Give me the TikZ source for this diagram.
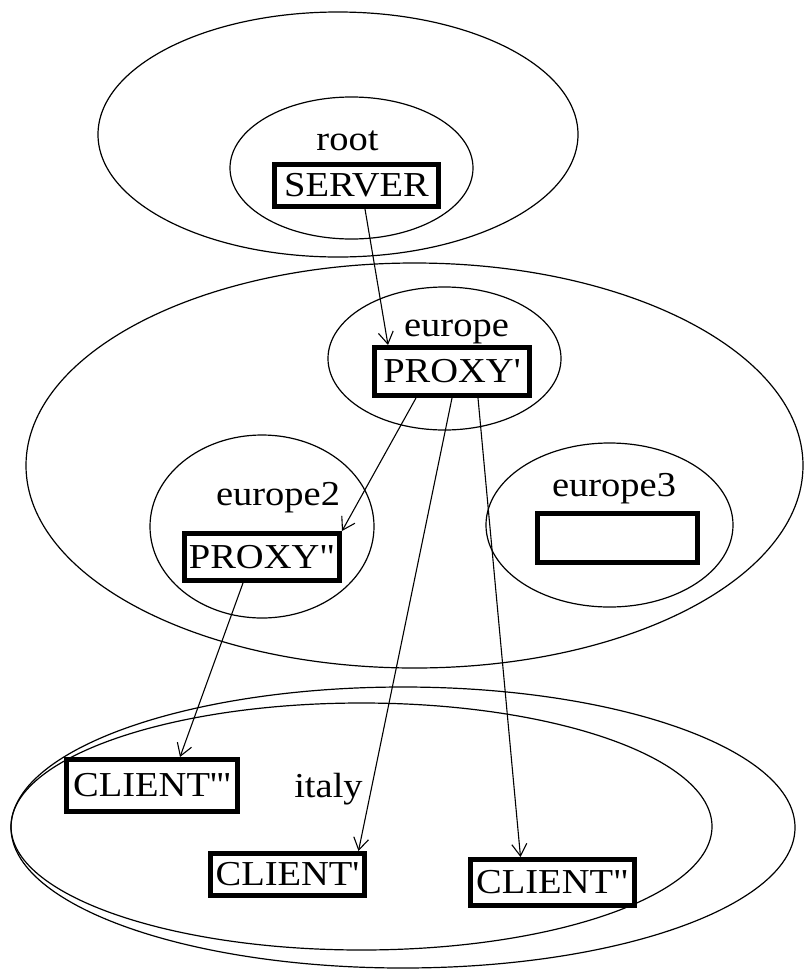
\documentclass[tikz,border=0pt]{standalone}
\usepackage{fontspec}
\usetikzlibrary{shapes.geometric,arrows.meta}
% straight ticks for the primes, slightly widened serif
\newfontfamily\diagfont{Liberation Serif}[Ligatures=TeXOff, FakeStretch=1.1]
\newcommand\diagtext{\diagfont\fontsize{35}{40}\selectfont}

\begin{document}
\begin{tikzpicture}[x=1pt,y=-1pt,
  cluster/.style={draw, ellipse, line width=1.2pt, inner sep=0pt, outer sep=0pt},
  host/.style={draw, rectangle, line width=5pt, inner sep=0pt, font=\diagtext},
  lbl/.style={anchor=base, inner sep=0pt, font=\diagtext},
  link/.style={line width=1.1pt, -{Straight Barb[length=12pt,width=15pt]}}]

\useasboundingbox (0,0) rectangle (804,970);

% clusters
\node[cluster, minimum width=480pt, minimum height=245pt] (cTop)     at (338,134.5) {};
\node[cluster, minimum width=243pt, minimum height=142pt] (cRoot)    at (351.5,168) {};
\node[cluster, minimum width=777pt, minimum height=405pt] (cEurope)  at (414.5,465.5) {};
\node[cluster, minimum width=233pt, minimum height=143pt] (cEurope1) at (444.5,358.5) {};
\node[cluster, minimum width=224pt, minimum height=183pt] (cEurope2) at (262,526.5) {};
\node[cluster, minimum width=247pt, minimum height=164pt] (cEurope3) at (609.5,525) {};
\node[cluster, minimum width=784pt, minimum height=281pt] (cBottom)  at (403,827.5) {};
\node[cluster, minimum width=701pt, minimum height=247pt] (cItaly)   at (361.5,826.5) {};

% cluster labels
\node[lbl] (lRoot)    at (347.5,150) {root};
\node[lbl] (lEurope)  at (456.5,336) {europe};
\node[lbl] (lEurope2) at (278,505)   {europe2};
\node[lbl] (lEurope3) at (614,496)   {europe3};
\node[lbl] (lItaly)   at (328.5,797) {italy};

% hosts
\node[host, minimum width=164pt, minimum height=42pt] (server)  at (356.5,185.5) {SERVER};
\node[host, minimum width=155pt, minimum height=48pt] (proxy1)  at (452,371.5)   {PROXY'};
\node[host, minimum width=155pt, minimum height=47pt] (proxy2)  at (262,557)     {PROXY"};
\node[host, minimum width=160pt, minimum height=49pt] (empty3)  at (617.5,538)   {};
\node[host, minimum width=171pt, minimum height=52pt] (client3) at (152,785.5)   {CLIENT'''};
\node[host, minimum width=154pt, minimum height=42pt] (client1) at (287.5,874.5) {CLIENT'};
\node[host, minimum width=164pt, minimum height=46pt] (client2) at (552.5,882.5) {CLIENT"};

% links
\draw[link] ([xshift=8.5pt]server.south) -- ([xshift=-64pt]proxy1.north);
\draw[link] ([xshift=-36pt]proxy1.south) -- (proxy2.north east);
\draw[link] (proxy1.south) -- ([xshift=71pt]client1.north);
\draw[link] ([xshift=26pt]proxy1.south) -- ([xshift=-32pt]client2.north);
\draw[link] ([xshift=-19pt]proxy2.south) -- ([xshift=28pt]client3.north);
\end{tikzpicture}
\end{document}
